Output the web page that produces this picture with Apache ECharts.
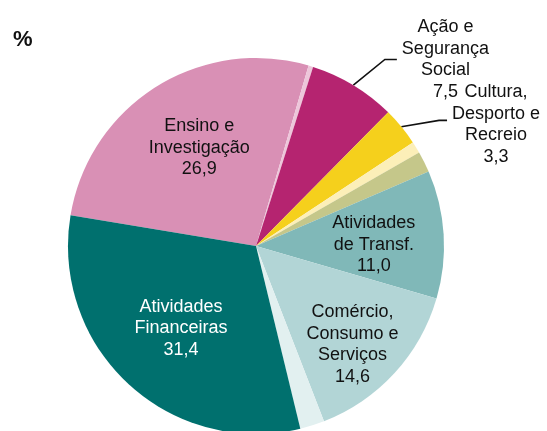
<!DOCTYPE html>
<html>
<head>
<meta charset="utf-8">
<script src="https://cdn.jsdelivr.net/npm/echarts@6/dist/echarts.min.js"></script>
<style>
  html, body { margin: 0; padding: 0; background: #fff; }
  #chart { width: 547px; height: 431px; }
</style>
</head>
<body>
<div id="chart"></div>
<script>
// --- Data (clockwise from the left edge of "Ensino") ---
const categories = [
    'Ensino e\nInvestigação',
    '',
    'Ação e\nSegurança\nSocial',
    'Cultura,\nDesporto e\nRecreio',
    '',
    '',
    'Atividades\nde Transf.',
    'Comércio,\nConsumo e\nServiços',
    '',
    'Atividades\nFinanceiras'
];
const values = [26.9, 0.4, 7.5, 3.3, 1.0, 1.8, 11.0, 14.6, 2.1, 31.4];
const colors = ['#d990b5', '#edc6da', '#b52470', '#f5d01c', '#fcefb8', '#c5c78a',
                '#80b8b8', '#b2d5d6', '#e2f0f0', '#00706e'];

// label placement tweaks per slice (style only)
const labelStyle = {
    0: { position: 'inside', offset: [-5, -16] },
    2: { position: 'outside', labelLine: { length: 30, length2: 28 }, elbow: 12 },
    3: { position: 'outside', padding: [8, 0, 0, 0], labelLine: { length: 10, length2: 38 }, elbow: 8 },
    6: { position: 'inside', offset: [21, 5] },
    7: { position: 'inside', offset: [25, 33] },
    9: { position: 'inside', offset: [-9, 11], white: true }
};

const fmt = v => v.toFixed(1).replace('.', ',');

const textBase = { fontFamily: 'Liberation Sans', fontSize: 18, lineHeight: 21.5, align: 'center' };

const pieData = categories.map((name, i) => {
    const item = { name: name, value: values[i], itemStyle: { color: colors[i] } };
    const ls = labelStyle[i];
    if (!name || !ls) {
        item.label = { show: false };
        item.labelLine = { show: false };
        return item;
    }
    item.label = {
        show: true,
        position: ls.position,
        overflow: 'none',
        formatter: p => p.name.split('\n').concat(fmt(p.value))
            .map(s => '{' + (ls.white ? 'w' : 'c') + '|' + s + '}').join('\n')
    };
    if (ls.offset) item.label.offset = ls.offset;
    if (ls.padding) item.label.padding = ls.padding;
    if (ls.labelLine) {
        item.labelLine = Object.assign({ show: true, smooth: false,
            lineStyle: { color: '#111', width: 1.6 } }, ls.labelLine);
    }
    return item;
});

const chart = echarts.init(document.getElementById('chart'), null, { renderer: 'canvas' });
chart.setOption({
    backgroundColor: '#fff',
    animation: false,
    title: {
        text: '%',
        left: 8,
        top: 24,
        textStyle: { fontFamily: 'Liberation Sans', fontSize: 22, fontWeight: 'bold', color: '#111' }
    },
    series: [{
        type: 'pie',
        center: [256, 246],
        radius: [0, 188],
        startAngle: 170.6,
        clockwise: true,
        avoidLabelOverlap: false,
        itemStyle: { borderWidth: 0 },
        emphasis: { disabled: true },
        label: {
            distanceToLabelLine: 5,
            overflow: 'none',
            bleedMargin: 0,
            rich: {
                c: Object.assign({ color: '#111' }, textBase),
                w: Object.assign({ color: '#fff' }, textBase)
            }
        },
        // pull the leader-line elbow closer to the label, as in the original
        labelLayout: function (params) {
            const ls = labelStyle[params.dataIndex];
            const pts = params.labelLinePoints;
            if (!ls || !ls.elbow || !pts) return {};
            const end = pts[2];
            return { labelLinePoints: [pts[0], [end[0] - ls.elbow, end[1]], end] };
        },
        data: pieData
    }]
});
</script>
</body>
</html>
